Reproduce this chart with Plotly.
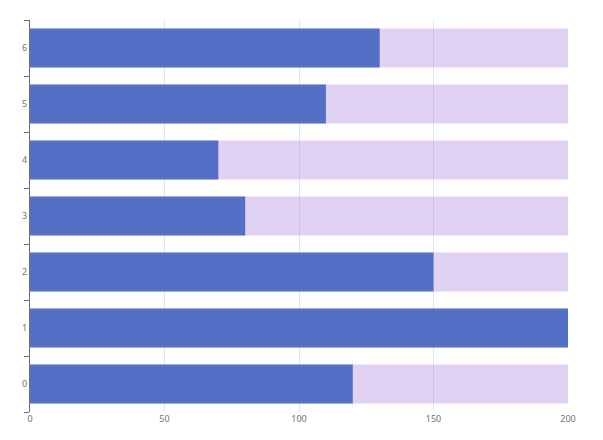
import plotly.graph_objects as go

categories = ["0", "1", "2", "3", "4", "5", "6"]
values = [120, 200, 150, 80, 70, 110, 130]
background = [200, 200, 200, 200, 200, 200, 200]

fig = go.Figure()
fig.add_trace(go.Bar(
    y=categories, x=background, orientation="h",
    marker={"color": "rgba(180,140,225,0.4)", "line": {"width": 0}},
    width=0.7, hoverinfo="skip", showlegend=False,
))
fig.add_trace(go.Bar(
    y=categories, x=values, orientation="h",
    marker={"color": "#5470c6", "line": {"width": 0}},
    width=0.7, showlegend=False,
))

# the page body adds an 8px margin, so the figure is a bit smaller than the window
fig.update_layout(
    width=595, height=432,
    barmode="overlay",
    plot_bgcolor="white", paper_bgcolor="white",
    margin={"l": 22, "r": 35, "t": 12, "b": 28},
    font={"family": "Noto Sans", "size": 9, "color": "#6e7079"},
    xaxis={
        "range": [0, 200], "tickvals": [0, 50, 100, 150, 200],
        "showgrid": True, "gridcolor": "#e0e6f1", "zeroline": False,
        "showline": False, "ticks": "", "automargin": False,
    },
    yaxis={
        "type": "category", "categoryorder": "array", "categoryarray": categories,
        "range": [-0.5, 6.5], "showgrid": False, "zeroline": False,
        "showline": True, "linecolor": "#6e7079", "linewidth": 1,
        "ticks": "outside", "ticklen": 5, "tickcolor": "#6e7079",
        "tickson": "boundaries", "automargin": False,
    },
)

fig.write_html("out.html")
